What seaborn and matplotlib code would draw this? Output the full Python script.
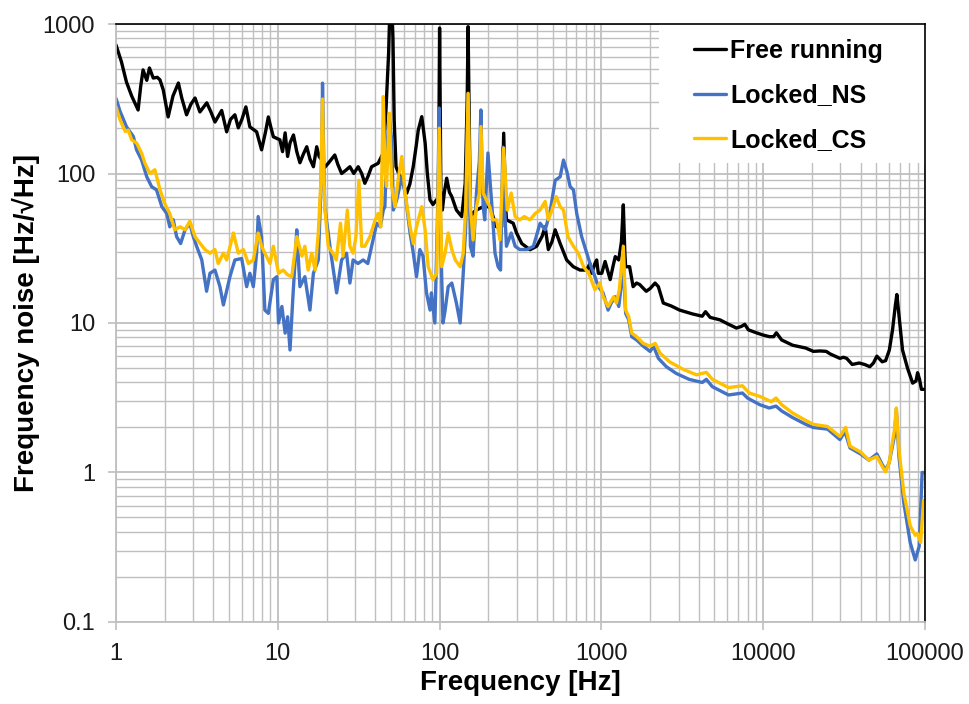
import numpy as np
import pandas as pd
import matplotlib
matplotlib.use("Agg")
import matplotlib.pyplot as plt
from matplotlib.patches import Rectangle
from matplotlib.ticker import NullFormatter
import seaborn as sns

# ── Data (frequency in Hz, noise in Hz/sqrt(Hz)) ──
free_f = [1.0, 1.08, 1.16, 1.25, 1.37, 1.42, 1.47, 1.55, 1.61, 1.70, 1.80, 1.87, 1.96,
          2.10, 2.25, 2.43, 2.55, 2.73, 2.9, 3.08, 3.30, 3.64, 3.85, 4.09, 4.50, 4.83,
          5.1, 5.43, 5.70, 6.0, 6.35, 6.72, 7.40, 7.94, 8.4, 8.74, 9.1, 9.39, 10.3,
          10.7, 11.1, 11.5, 11.9, 12.5, 13.1, 13.7, 14.4, 15.1, 15.8, 16.6, 17.4,
          18.0, 18.7, 19.5, 20.5, 21.5, 22.5, 23.5, 24.8, 26.3, 27.9, 29.5, 31.4,
          33.0, 34.5, 36.0, 38.0, 41.7, 44.8, 46.5, 48.4, 49.5, 50.5, 51.5, 52.4,
          53.8, 56.9, 59.5, 62.7, 65.5, 68.7, 71.5, 73.8, 77.6, 81.4, 84.0, 87.2,
          91.0, 96.0, 98.3, 100.0, 102.0, 104.0, 107.0, 110.6, 115.0, 119.0, 127.0,
          137.0, 144.0, 148.0, 150.0, 152.0, 155.0, 162.0, 169.0, 186.0, 204.0,
          225.0, 242.0, 249.0, 256.0, 259.0, 285.0, 299.0, 322.0, 362.0, 398.0,
          430.0, 449.0, 470.0, 495.0, 518.0, 556.0, 610.0, 670.0, 738.0, 813.0,
          849.0, 870.0, 912.0, 935.0, 957.0, 1005.0, 1054.0, 1133.0, 1180.0, 1218.0,
          1280.0, 1330.0, 1366.0, 1395.0, 1412.0, 1494.0, 1570.0, 1650.0, 1722.0,
          1892.0, 2000.0, 2146.0, 2249.0, 2413.0, 2700.0, 3043.0, 3653.0, 4200.0,
          4400.0, 4700.0, 5400.0, 6000.0, 6830.0, 7350.0, 7690.0, 8100.0, 9070.0,
          10000.0, 10930.0, 11600.0, 12060.0, 13000.0, 15200.0, 18300.0, 20400.0,
          22500.0, 24500.0, 26000.0, 29800.0, 31300.0, 32800.0, 35500.0, 39200.0,
          42300.0, 45600.0, 48000.0, 50400.0, 54400.0, 57100.0, 60200.0, 63000.0,
          65500.0, 67000.0, 69200.0, 72600.0, 78000.0, 83900.0, 88000.0, 90000.0,
          92500.0, 95000.0, 98000.0]
free_v = [724, 560, 410, 330, 266, 380, 493, 420, 508, 435, 440, 423, 362,
          239, 330, 403, 320, 247, 290, 320, 258, 297, 260, 221, 264, 190,
          230, 247, 202, 230, 279, 205, 190, 144, 190, 239, 200, 176, 168,
          140, 187, 130, 160, 181, 140, 118, 135, 151, 125, 111, 151,
          130, 123, 110, 117, 125, 133, 115, 100, 105, 111, 100, 111,
          100, 86, 95, 111, 117, 137, 250, 637, 1500, 1500, 800, 228,
          111, 95, 85, 74, 85, 111, 150, 195, 240, 160, 100, 66.7,
          62, 67, 60, 940, 60, 57, 75, 93, 75, 70, 57,
          51.5, 86, 300, 960, 300, 51.5, 55, 57, 60, 60,
          44, 44, 186, 60, 49, 46.5, 40, 34, 30.9, 32.6,
          38, 44, 31, 35, 42, 34, 26.4, 23.8, 22.6, 22.6,
          25, 21.5, 25, 26.4, 21.5, 21.5, 25.8, 19.5, 24, 27.8,
          26.4, 35, 61.7, 30, 23.8, 23.8, 17.5, 18.5, 18.1,
          16.3, 17, 18.5, 17.5, 13.6, 13, 12.2, 11.5, 11.1,
          11.9, 10.9, 10.5, 9.9, 9.25, 9.5, 9.8, 9.0, 8.6,
          8.3, 8.1, 8.1, 8.6, 7.7, 7.1, 6.8, 6.46,
          6.5, 6.46, 6.2, 5.8, 5.9, 5.8, 5.28, 5.4,
          5.28, 5.1, 5.4, 6.0, 5.5, 5.6, 6.6, 9.0,
          13, 15.5, 11, 6.6, 4.98, 3.96, 4.1, 4.65,
          4.2, 3.6, 3.6]

ns_f = [1.0, 1.06, 1.16, 1.22, 1.28, 1.34, 1.44, 1.55, 1.66, 1.78, 1.92, 2.06, 2.15,
        2.26, 2.37, 2.51, 2.67, 2.86, 3.0, 3.15, 3.39, 3.63, 3.81, 4.09, 4.39, 4.61,
        5.06, 5.43, 5.98, 6.42, 6.72, 7.06, 7.40, 7.56, 7.94, 8.32, 8.74, 9.39, 9.86,
        10.1, 10.6, 11.1, 11.5, 11.9, 12.4, 12.8, 13.1, 13.7, 14.7, 15.8, 16.6, 17.8,
        18.3, 18.7, 18.9, 19.2, 19.5, 21.0, 23.1, 24.8, 26.6, 27.9, 29.2, 31.3, 33.7,
        36.0, 38.0, 40.9, 43.0, 44.9, 45.9, 47.1, 48.9, 50.6, 51.8, 54.4, 58.4, 61.2,
        65.7, 68.8, 72.0, 75.5, 79.0, 83.0, 87.3, 89.0, 93.5, 97.0, 99.5, 101.0,
        103.0, 105.0, 108.0, 113.0, 119.0, 127.0, 134.0, 140.0, 145.0, 150.0, 155.0,
        161.0, 169.0, 176.0, 180.0, 183.0, 186.0, 190.0, 199.0, 210.0, 220.0, 230.0,
        238.0, 246.0, 252.0, 259.0, 277.0, 293.0, 313.0, 346.0, 380.0, 418.0, 449.0,
        480.0, 518.0, 556.0, 583.0, 612.0, 641.0, 672.0, 704.0, 755.0, 813.0, 850.0,
        912.0, 957.0, 1024.0, 1100.0, 1150.0, 1218.0, 1280.0, 1330.0, 1366.0, 1395.0,
        1412.0, 1475.0, 1540.0, 1650.0, 1815.0, 2000.0, 2100.0, 2250.0, 2520.0,
        2900.0, 3480.0, 4200.0, 4450.0, 4850.0, 6100.0, 7450.0, 7990.0, 9530.0,
        10900.0, 12000.0, 13000.0, 15200.0, 18300.0, 20400.0, 25000.0, 29800.0,
        32000.0, 34400.0, 40000.0, 45000.0, 50400.0, 54400.0, 57000.0, 60000.0,
        64700.0, 66500.0, 69000.0, 74000.0, 81000.0, 87000.0, 92000.0, 96000.0,
        98000.0]
ns_v = [318, 260, 206, 190, 177, 144, 123, 95, 81.7, 77.7, 60, 54, 44,
        49, 37.8, 34, 42, 46.5, 38, 32.6, 26.4, 16.3, 21.5, 22.6, 17.5, 13.2,
        20.4, 26.4, 27, 17.5, 21.5, 17.5, 29.3, 51.5, 37.8, 12.2, 11.6, 19.5, 20.4,
        10, 12.9, 8.55, 11, 6.6, 15, 26.4, 42, 17.5, 20.4, 12.2, 21.5, 26.4,
        60, 137, 402, 137, 60, 32.6, 15.9, 26.4, 29.3, 18.5, 26.4, 25, 26.4,
        25, 32.6, 46.5, 44, 57, 60, 151, 228, 168, 57, 67, 95, 74,
        40, 29.3, 20.4, 31, 28, 15.9, 12.2, 15.9, 10, 50, 274, 60,
        20.4, 10, 12, 17.5, 18.5, 13.6, 10, 21.5, 44, 340, 32.6,
        28, 74, 120, 266, 100, 60, 49, 137, 63, 29.3, 23.8,
        22.6, 150, 60, 32.6, 40, 32.6, 31, 31, 32.6, 46.5, 42,
        54, 90, 95, 123, 103, 81.7, 77.7, 54, 37.8, 29.3, 25,
        20.4, 17.5, 15.9, 12.2, 13.6, 15, 12.9, 18, 30, 15,
        11.6, 10.5, 8.1, 7.7, 7.0, 6.45, 7.0, 5.8, 5.1,
        4.6, 4.2, 4.0, 4.2, 3.75, 3.3, 3.4, 3.15, 2.84,
        2.7, 2.78, 2.58, 2.33, 2.1, 2.0, 1.95, 1.66,
        1.88, 1.46, 1.33, 1.21, 1.33, 1.13, 1.04, 1.16,
        1.75, 2.64, 1.28, 0.625, 0.34, 0.26, 0.32, 1.0,
        1.0]

cs_f = [1.0, 1.06, 1.14, 1.19, 1.25, 1.34, 1.44, 1.51, 1.62, 1.74, 1.87, 2.0, 2.15,
        2.31, 2.49, 2.67, 2.86, 3.08, 3.30, 3.55, 3.81, 4.09, 4.28, 4.61, 4.83, 5.32,
        5.70, 6.13, 6.58, 7.06, 7.56, 7.94, 8.32, 8.95, 9.39, 10.1, 10.8, 11.5, 12.2,
        12.8, 13.1, 14.1, 14.7, 15.4, 16.2, 17.0, 17.8, 18.4, 18.9, 19.2, 19.5, 20.5,
        21.9, 23.0, 24.4, 25.3, 26.9, 27.9, 29.2, 30.4, 31.7, 33.0, 34.5, 37.1, 40.0,
        41.7, 43.3, 44.9, 45.9, 47.0, 48.9, 50.6, 53.0, 55.7, 58.4, 61.2, 65.7, 68.8,
        72.0, 77.6, 81.4, 85.0, 91.0, 96.0, 99.5, 103.0, 108.0, 113.0, 119.0, 125.0,
        134.0, 140.0, 145.0, 150.0, 155.0, 161.0, 169.0, 176.0, 180.0, 186.0, 194.0,
        204.0, 213.0, 225.0, 236.0, 249.0, 262.0, 277.0, 293.0, 313.0, 334.0, 362.0,
        390.0, 418.0, 449.0, 470.0, 495.0, 526.0, 556.0, 583.0, 621.0, 672.0, 720.0,
        775.0, 835.0, 912.0, 980.0, 1024.0, 1100.0, 1190.0, 1240.0, 1290.0, 1366.0,
        1412.0, 1475.0, 1540.0, 1650.0, 1815.0, 2000.0, 2150.0, 2300.0, 2640.0,
        3200.0, 3870.0, 4450.0, 4850.0, 6100.0, 7450.0, 8200.0, 9530.0, 11200.0,
        12000.0, 13000.0, 15200.0, 18300.0, 20400.0, 25000.0, 29800.0, 32300.0,
        34400.0, 40000.0, 45000.0, 50400.0, 54400.0, 57000.0, 60000.0, 64700.0,
        66500.0, 69000.0, 74000.0, 81000.0, 87000.0, 90000.0, 94000.0, 98000.0]
cs_v = [280, 228, 191, 195, 168, 160, 137, 117, 100, 106, 78, 63, 54,
        42, 44, 42, 48, 37.8, 34.2, 31, 29.3, 31, 25, 29.3, 26.4, 40,
        29.3, 31, 25, 26.4, 40, 32.6, 29.3, 25, 32.6, 21.5, 22.6, 21, 20.4,
        31, 37.8, 28, 32.6, 22.6, 29.3, 22.6, 40, 82, 315, 110, 60, 32.6,
        29.3, 26.4, 46.5, 28, 57, 32.6, 29.3, 37.8, 90, 32.6, 32.6, 37.8, 49,
        54, 44, 327, 106, 82, 253, 82, 60, 95, 130, 74, 44, 34,
        44, 60, 42, 23.8, 19.5, 21.5, 201, 23.8, 29.3, 40, 31, 26.4,
        23.8, 29.3, 60, 344, 60, 36, 60, 74, 206, 74, 67,
        60, 49, 49, 36, 148, 57, 74, 51.5, 49, 51.5, 49,
        54, 57, 65, 49, 57, 70, 60, 57, 37.8, 32.6, 29.3,
        23.8, 21.5, 16.7, 18.5, 15, 12.9, 15, 13.6, 16.7, 32.6,
        12.2, 11, 8.55, 8.1, 7.3, 7.0, 7.3, 6.3, 5.5,
        4.9, 4.5, 4.68, 4.2, 3.7, 3.8, 3.4, 3.23, 2.98,
        3.15, 2.84, 2.5, 2.23, 2.1, 2.03, 1.74, 2.0,
        1.5, 1.37, 1.21, 1.28, 1.1, 1.01, 1.16, 1.93,
        2.7, 1.42, 0.73, 0.44, 0.38, 0.39, 0.34, 0.65]

series_names = ["Free running", "Locked_NS", "Locked_CS"]
series_colors = ["#000000", "#4472C4", "#FFC000"]
y_ticks = [0.1, 1, 10, 100, 1000]
y_tick_labels = ["0.1", "1", "10", "100", "1000"]
x_ticks = [1, 10, 100, 1000, 10000, 100000]
x_tick_labels = ["1", "10", "100", "1000", "10000", "100000"]

# ── Style ─────────────────────────────────────────────────────────────
sns.set_style("white")
plt.rcParams["font.family"] = ["Liberation Sans", "DejaVu Sans"]
plt.rcParams["text.color"] = "black"
plt.rcParams["axes.labelcolor"] = "black"
plt.rcParams["xtick.labelcolor"] = "#1a1a1a"
plt.rcParams["ytick.labelcolor"] = "#1a1a1a"

df = pd.concat([
    pd.DataFrame({"freq": free_f, "noise": free_v, "series": series_names[0]}),
    pd.DataFrame({"freq": ns_f, "noise": ns_v, "series": series_names[1]}),
    pd.DataFrame({"freq": cs_f, "noise": cs_v, "series": series_names[2]}),
], ignore_index=True)

fig = plt.figure(figsize=(9.69, 7.04), dpi=100)
ax = fig.add_axes([0.1197, 0.1165, 0.8349, 0.8494])
ax.set_xscale("log")
ax.set_yscale("log")

sns.lineplot(data=df, x="freq", y="noise", hue="series", hue_order=series_names,
             palette=series_colors, estimator=None, sort=False, linewidth=2.4,
             ax=ax, legend=False)

ax.set_xlim(1, 100000)
ax.set_ylim(0.1, 1000)

grid_col = "#BFBFBF"
ax.grid(which="major", color=grid_col, linewidth=1.3)
ax.grid(which="minor", color=grid_col, linewidth=1.0)
ax.set_axisbelow(True)

ax.set_xticks(x_ticks)
ax.set_xticklabels(x_tick_labels)
ax.set_yticks(y_ticks)
ax.set_yticklabels(y_tick_labels)
ax.xaxis.set_minor_formatter(NullFormatter())
ax.yaxis.set_minor_formatter(NullFormatter())
ax.tick_params(which="major", direction="out", length=6, width=1.2, color=grid_col,
               labelsize=17, pad=9, bottom=True, left=True)
ax.tick_params(which="minor", length=0)

for side in ["left", "bottom"]:
    ax.spines[side].set_color(grid_col)
    ax.spines[side].set_linewidth(1.3)
for side in ["top", "right"]:
    ax.spines[side].set_color("#000000")
    ax.spines[side].set_linewidth(1.2)

ax.set_xlabel("Frequency [Hz]", fontsize=20, fontweight="bold", labelpad=4)
ax.set_ylabel("Frequency noise [Hz/\u221aHz]", fontsize=20, fontweight="bold", labelpad=2)

# white backdrop behind the legend, hiding the grid there
ax.add_patch(Rectangle((0.671, 0.768), 0.329, 0.232, transform=ax.transAxes,
                       facecolor="white", edgecolor="none", zorder=1))

handles = [plt.Line2D([], [], color=c, linewidth=2.4) for c in series_colors]
leg = ax.legend(handles, series_names, loc="upper left", bbox_to_anchor=(0.714, 0.975),
                frameon=False, borderpad=0, borderaxespad=0, handlelength=1.3,
                handletextpad=0.15, labelspacing=0.82,
                prop={"size": 18, "weight": "bold"})

fig.savefig("out.png", dpi=100)
